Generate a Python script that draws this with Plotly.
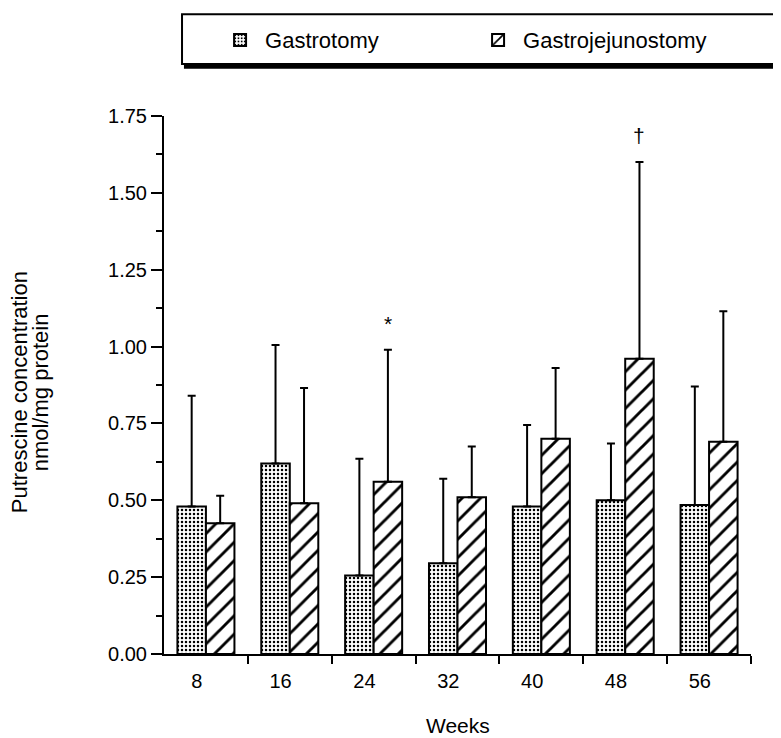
import plotly.graph_objects as go

weeks = ["8", "16", "24", "32", "40", "48", "56"]
gastrotomy = [0.48, 0.62, 0.255, 0.295, 0.48, 0.50, 0.485]
gastrotomy_top = [0.84, 1.005, 0.635, 0.57, 0.745, 0.685, 0.87]
gj = [0.425, 0.49, 0.56, 0.51, 0.70, 0.96, 0.69]
gj_top = [0.515, 0.865, 0.99, 0.675, 0.93, 1.60, 1.115]
marks = {2: ("*", 1.075), 5: ("\u2020", 1.685)}
y_ticks = [0.00, 0.25, 0.50, 0.75, 1.00, 1.25, 1.50, 1.75]

FONT = "Liberation Sans, Arial, Helvetica, sans-serif"
pos = list(range(len(weeks)))

g_err = [t - v for t, v in zip(gastrotomy_top, gastrotomy)]
gj_err = [t - v for t, v in zip(gj_top, gj)]

fig = go.Figure()
fig.add_trace(go.Bar(
    x=pos, y=gastrotomy, name="Gastrotomy",
    marker=dict(color="white", line=dict(color="black", width=2),
                pattern=dict(shape=".", fgcolor="black", bgcolor="white", size=4,
                             solidity=0.3, fgopacity=1)),
    error_y=dict(type="data", array=g_err, arrayminus=[0]*len(g_err), symmetric=False,
                 color="black", thickness=2, width=4),
))
fig.add_trace(go.Bar(
    x=pos, y=gj, name="Gastrojejunostomy",
    marker=dict(color="white", line=dict(color="black", width=2),
                pattern=dict(shape="/", fgcolor="black", bgcolor="white", size=13,
                             solidity=0.22, fgopacity=1)),
    error_y=dict(type="data", array=gj_err, arrayminus=[0]*len(gj_err), symmetric=False,
                 color="black", thickness=2, width=4),
))

for i, (txt, yv) in marks.items():
    fig.add_annotation(x=i + 0.17, y=yv, text=txt, showarrow=False,
                       font=dict(size=21, color="black", family=FONT), xref="x", yref="y")

# Axis titles
fig.add_annotation(x=-0.245, y=0.487, xref="paper", yref="paper", textangle=-90,
                   xanchor="center", yanchor="middle",
                   text="Putrescine concentration", showarrow=False,
                   font=dict(size=22, family=FONT, color="black"))
fig.add_annotation(x=-0.209, y=0.487, xref="paper", yref="paper", textangle=-90,
                   xanchor="center", yanchor="middle",
                   text="nmol/mg protein", showarrow=False,
                   font=dict(size=22, family=FONT, color="black"))
fig.add_annotation(x=0.5, y=-0.133, xref="paper", yref="paper",
                   xanchor="center", yanchor="middle",
                   text="Weeks", showarrow=False,
                   font=dict(size=21, family=FONT, color="black"))

# Legend frame with shadow
fig.add_shape(type="rect", xref="paper", yref="paper", x0=0.0307, x1=1.0477, y0=1.0965, y1=1.189,
              line=dict(color="black", width=2), fillcolor="rgba(0,0,0,0)", layer="below")
fig.add_shape(type="line", xref="paper", yref="paper", x0=0.034, x1=1.05, y0=1.0915, y1=1.0915,
              line=dict(color="black", width=4))
fig.add_shape(type="line", xref="paper", yref="paper", x0=1.0495, x1=1.0495, y0=1.186, y1=1.09,
              line=dict(color="black", width=3))

fig.update_layout(
    width=773, height=730,
    margin=dict(l=156, r=30, t=107, b=84),
    paper_bgcolor="white", plot_bgcolor="white",
    barmode="group", bargap=0.32, bargroupgap=0.0,
    font=dict(family=FONT, size=20, color="black"),
    showlegend=True,
    legend=dict(orientation="h", x=0.087, y=1.139, xanchor="left", yanchor="middle",
                font=dict(size=22, family=FONT), itemwidth=40, entrywidth=203,
                bgcolor="rgba(0,0,0,0)", traceorder="normal"),
    xaxis=dict(range=[-0.5, 6.5], tickmode="array", automargin=False,
               tickvals=[p - 0.11 for p in pos], ticktext=weeks,
               ticks="outside", ticklen=8, tickcolor="rgba(0,0,0,0)",
               showline=True, linecolor="black", linewidth=2,
               showgrid=False, zeroline=False, tickfont=dict(size=20),
               minor=dict(tickmode="array", tickvals=[p + 0.5 for p in pos],
                          ticks="outside", ticklen=8, tickwidth=2, tickcolor="black")),
    yaxis=dict(range=[0, 1.75], tickmode="array", tickvals=y_ticks, automargin=False,
               ticktext=[f"{v:.2f}" for v in y_ticks],
               ticks="outside", ticklen=11, tickwidth=2, tickcolor="black",
               showline=True, linecolor="black", linewidth=2,
               showgrid=False, zeroline=False, tickfont=dict(size=20),
               minor=dict(tickmode="array", tickvals=[v + 0.125 for v in y_ticks[:-1]],
                          ticks="outside", ticklen=6, tickwidth=2, tickcolor="black")),
)

fig.write_html("out.html")
